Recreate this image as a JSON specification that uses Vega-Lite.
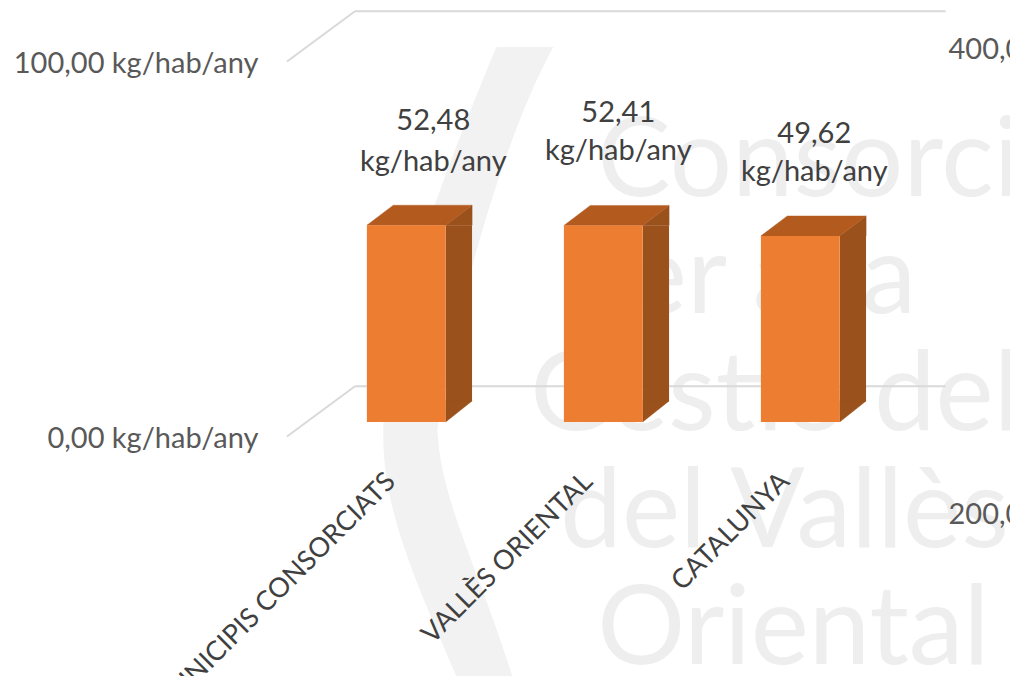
{"$schema":"https://vega.github.io/schema/vega-lite/v6.json","width":1010,"height":676,"padding":0,"autosize":{"type":"none"},"background":"white","config":{"view":{"stroke":null},"font":"Lato","text":{"font":"Lato"}},"datasets":{"bars":[{"category":"MUNICIPIS CONSORCIATS","value":52.48,"label":"52,48\nkg/hab/any"},{"category":"VALLÈS ORIENTAL","value":52.41,"label":"52,41\nkg/hab/any"},{"category":"CATALUNYA","value":49.62,"label":"49,62\nkg/hab/any"}],"grid":[{"v":0},{"v":100}],"watermark":[{"line":1,"text":"Consorci"},{"line":2,"text":"per a la"},{"line":3,"text":"Gestió del"},{"line":4,"text":"del Vallès"},{"line":5,"text":"Oriental"}]},"resolve":{"scale":{"y":"independent"}},"layer":[{"data":{"values":[{"category":"MUNICIPIS CONSORCIATS","v":0}]},"mark":{"type":"point","shape":"M90,-375 L147,-375 C100,-290 50,-120 31,8 C35,80 70,140 106,254 L50,254 C10,160 -23,90 -23,14 C-23,-90 30,-230 90,-375 Z","size":4,"filled":true,"fill":"#f2f2f2","opacity":1,"stroke":null},"encoding":{"x":{"field":"category","type":"nominal","sort":null,"title":null,"scale":{"domain":["MUNICIPIS CONSORCIATS","VALLÈS ORIENTAL","CATALUNYA"],"range":[307.8,898.8],"paddingInner":0.6,"paddingOuter":0.3},"axis":{"orient":"bottom","offset":-199,"labelOffset":-15,"domain":false,"ticks":false,"grid":false,"labelAngle":-45,"labelAlign":"right","labelBaseline":"middle","labelPadding":0,"labelFontSize":27,"labelFont":"Lato","labelColor":"#404040","labelOverlap":false,"labelLimit":0,"title":null,"zindex":1}},"y":{"field":"v","type":"quantitative","axis":null,"scale":{"domain":[-67.73,112.53],"nice":false,"zero":false}}}},{"data":{"name":"watermark"},"layer":[{"transform":[{"filter":"datum.line==1"}],"mark":{"type":"text","fontSize":110,"font":"Lato","align":"left","baseline":"alphabetic","color":"#eeeeee","dx":-203}},{"transform":[{"filter":"datum.line==2"}],"mark":{"type":"text","fontSize":110,"font":"Lato","align":"right","baseline":"alphabetic","color":"#eeeeee","dx":116}},{"transform":[{"filter":"datum.line==3"}],"mark":{"type":"text","fontSize":110,"font":"Lato","align":"left","baseline":"alphabetic","color":"#eeeeee","dx":-270}},{"transform":[{"filter":"datum.line==4"}],"mark":{"type":"text","fontSize":110,"font":"Lato","align":"left","baseline":"alphabetic","color":"#eeeeee","dx":-240}},{"transform":[{"filter":"datum.line==5"}],"mark":{"type":"text","fontSize":110,"font":"Lato","align":"left","baseline":"alphabetic","color":"#eeeeee","dx":-203}}],"encoding":{"x":{"datum":"CATALUNYA"},"y":{"field":"line","type":"quantitative","axis":null,"scale":{"domain":[1,5],"range":[196,664],"zero":false,"nice":false}},"text":{"field":"text"}}},{"layer":[{"data":{"name":"grid"},"mark":{"type":"rule","color":"#d9d9d9","strokeWidth":2,"xOffset":-51.3,"x2Offset":145.3,"yOffset":-35.8,"y2Offset":-35.8},"encoding":{"x":{"datum":"MUNICIPIS CONSORCIATS"},"x2":{"datum":"CATALUNYA"},"y":{"field":"v","type":"quantitative"},"y2":{"field":"v"}}},{"data":{"name":"grid"},"mark":{"type":"rule","color":"#d9d9d9","strokeWidth":2,"xOffset":-119.3,"x2Offset":-51.3,"yOffset":14.5,"y2Offset":-35.8},"encoding":{"x":{"datum":"MUNICIPIS CONSORCIATS"},"x2":{"datum":"MUNICIPIS CONSORCIATS"},"y":{"field":"v","type":"quantitative"},"y2":{"field":"v"}}},{"data":{"name":"bars"},"mark":{"type":"bar","fill":"#9a511c","width":26.3,"xOffset":52.6,"y2Offset":-21},"encoding":{"y2":{"datum":0}}},{"data":{"name":"bars"},"mark":{"type":"point","shape":"M39.4,0 L65.8,-20 L65.8,0 Z","size":4,"filled":true,"fill":"#9a511c","opacity":1,"stroke":"#9a511c","strokeWidth":0.4}},{"data":{"name":"bars"},"mark":{"type":"point","shape":"M39.4,0 L65.8,-21 L39.4,-21 Z","size":4,"filled":true,"fill":"#9a511c","opacity":1,"stroke":"#9a511c","strokeWidth":0.4},"encoding":{"y":{"datum":0}}},{"data":{"name":"bars"},"mark":{"type":"point","shape":"M-39.4,0 L39.4,0 L65.8,-20 L-13,-20 Z","size":4,"filled":true,"fill":"#b35a1f","opacity":1,"stroke":"#b35a1f","strokeWidth":0.4}},{"data":{"name":"bars"},"mark":{"type":"bar","fill":"#ed7d31"},"encoding":{"y2":{"datum":0}}},{"data":{"name":"bars"},"transform":[{"filter":"datum.value==52.48"}],"mark":{"type":"text","fontSize":29,"lineBreak":"\n","lineHeight":41,"align":"center","baseline":"alphabetic","dx":27,"dy":-95,"color":"#404040"},"encoding":{"text":{"field":"label"}}},{"data":{"name":"bars"},"transform":[{"filter":"datum.value==52.41"}],"mark":{"type":"text","fontSize":29,"lineBreak":"\n","lineHeight":38,"align":"center","baseline":"alphabetic","dx":15,"dy":-103,"color":"#404040"},"encoding":{"text":{"field":"label"}}},{"data":{"name":"bars"},"transform":[{"filter":"datum.value==49.62"}],"mark":{"type":"text","fontSize":29,"lineBreak":"\n","lineHeight":38,"align":"center","baseline":"alphabetic","dx":14,"dy":-93,"color":"#404040"},"encoding":{"text":{"field":"label"}}}],"encoding":{"x":{"field":"category","type":"nominal","sort":null,"title":null},"y":{"field":"value","type":"quantitative","title":null,"scale":{"domain":[-67.73,112.53],"nice":false,"zero":false},"axis":{"orient":"left","offset":-258,"values":[0,100],"domain":false,"ticks":false,"grid":false,"labelAlign":"right","labelPadding":0,"labelOffset":16.5,"labelFontSize":29,"labelFont":"Lato","labelColor":"#595959","labelLimit":0,"labelExpr":"replace(format(datum.value,'.2f'),'.',',')+' kg/hab/any'","title":null,"zindex":1}}}},{"data":{"values":[{"v":200},{"v":400}]},"mark":{"type":"point","opacity":0},"encoding":{"y":{"field":"v","type":"quantitative","title":null,"scale":{"domain":[130.75,421.5],"nice":false,"zero":false},"axis":{"orient":"right","offset":-62,"values":[200,400],"domain":false,"ticks":false,"grid":false,"labelAlign":"left","labelPadding":0,"labelFontSize":29,"labelFont":"Lato","labelColor":"#595959","labelLimit":0,"labelExpr":"replace(format(datum.value,'.2f'),'.',',')+' kg/hab/any'","title":null,"zindex":1}}}}]}
